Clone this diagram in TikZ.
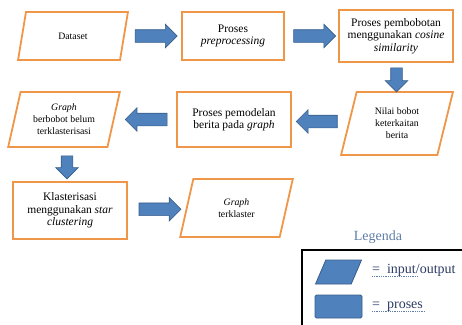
\documentclass[tikz,border=0pt]{standalone}
\usepackage{fontspec}
\setmainfont{Liberation Serif}
\usetikzlibrary{calc,shapes.geometric,shapes.arrows}
\definecolor{garisoranye}{RGB}{240,150,72}
\definecolor{birupanah}{RGB}{79,129,189}
\definecolor{birutepi}{RGB}{56,93,138}
\definecolor{birulegenda}{RGB}{95,125,165}
\definecolor{teksbiru}{RGB}{45,60,100}

\begin{document}
\begin{tikzpicture}[x=1pt, y=-1pt,
  kotak/.style={draw=garisoranye, line width=1.8pt, fill=white, align=center, inner sep=2pt, font=\fontsize{11.5}{12.5}\selectfont},
  io/.style={draw=garisoranye, line width=1.8pt, fill=white, trapezium, trapezium left angle=75, trapezium right angle=105, trapezium stretches=true, align=center, inner sep=2pt, font=\fontsize{9.8}{12}\selectfont},
  panah/.style={single arrow, draw=birutepi, fill=birupanah, line width=0.6pt, minimum height=42pt, minimum width=0pt, single arrow head extend=5.5pt, inner xsep=0pt, inner ysep=6pt},
  panahbawah/.style={panah, shape border rotate=270, inner xsep=5.5pt, inner ysep=0pt}]
\useasboundingbox (0,0) rectangle (462,324);

% alur utama
\node[io, minimum width=110pt, minimum height=48pt] (dataset) at (73,36) {Dataset};
\node[kotak, minimum width=102pt, minimum height=48pt] (praproses) at (233,36) {Proses\\ \textit{preprocessing}};
\node[kotak, minimum width=114pt, minimum height=52pt] (pembobotan) at (396,36) {Proses pembobotan\\ menggunakan \textit{cosine}\\ \textit{similarity}};
\node[io, minimum width=112pt, minimum height=63pt] (nilai) at (397,123.5) {Nilai bobot\\ keterkaitan\\ berita};
\node[kotak, minimum width=114pt, minimum height=55pt] (pemodelan) at (234,119.5) {Proses pemodelan\\ berita pada \textit{graph}};
\node[io, minimum width=112pt, minimum height=55pt] (berbobot) at (64,119.5) {\textit{Graph}\\ berbobot belum\\ terklasterisasi};
\node[kotak, minimum width=114pt, minimum height=57pt] (klasterisasi) at (70,210.5) {Klasterisasi\\ menggunakan \textit{star}\\ \textit{clustering}};
\node[io, minimum width=113pt, minimum height=58pt] (terklaster) at (236.5,208) {\textit{Graph}\\ terklaster};

% panah blok
\node[panah] (p1) at ($(dataset.east)!0.5!(praproses.west)$) {};
\node[panah] (p2) at ($(praproses.east)!0.5!(pembobotan.west)$) {};
\node[panahbawah, minimum height=24pt] (p3) at ($(pembobotan.south)!0.5!(nilai.north)$) {};
\node[panah, shape border rotate=180, minimum height=41pt] (p4) at ($(nilai.west)!0.5!(pemodelan.east)$) {};
\node[panah, shape border rotate=180, xshift=4pt] (p5) at ($(pemodelan.west)!0.5!(berbobot.east)$) {};
\node[panahbawah, minimum height=23pt] (p6) at ($(berbobot.south)!0.5!(klasterisasi.north)$) {};
\node[panah] (p7) at ($(klasterisasi.east)!0.5!(terklaster.west)$) {};

% legenda
\node[font=\fontsize{14}{16}\selectfont, text=birulegenda] (legenda) at (378,237) {Legenda};
\draw[line width=2pt] (302,250) rectangle (466,330);
\node[trapezium, trapezium left angle=68, trapezium right angle=112, trapezium stretches=true, draw=birutepi, fill=birupanah, line width=0.8pt, minimum width=46pt, minimum height=24pt] (ikonio) at (338.5,272) {};
\node[draw=birutepi, fill=birupanah, rounded corners=1.5pt, line width=0.8pt, minimum width=47pt, minimum height=23pt] (ikonproses) at (338.5,306.5) {};
\node[anchor=west, text=teksbiru, font=\fontsize{14}{16}\selectfont, inner sep=0pt] (ketio) at (372,270) {=\ \ input/output};
\node[anchor=west, text=teksbiru, font=\fontsize{14}{16}\selectfont, inner sep=0pt] (ketproses) at (372,307) {=\ \ proses};
\draw[birulegenda, densely dotted, thick] ($(ketio.base west)+(0,3)$) -- ++(46,0);
\draw[birulegenda, densely dotted, thick] ($(ketproses.base west)+(0,3)$) -- ++(53,0);
\end{tikzpicture}
\end{document}
